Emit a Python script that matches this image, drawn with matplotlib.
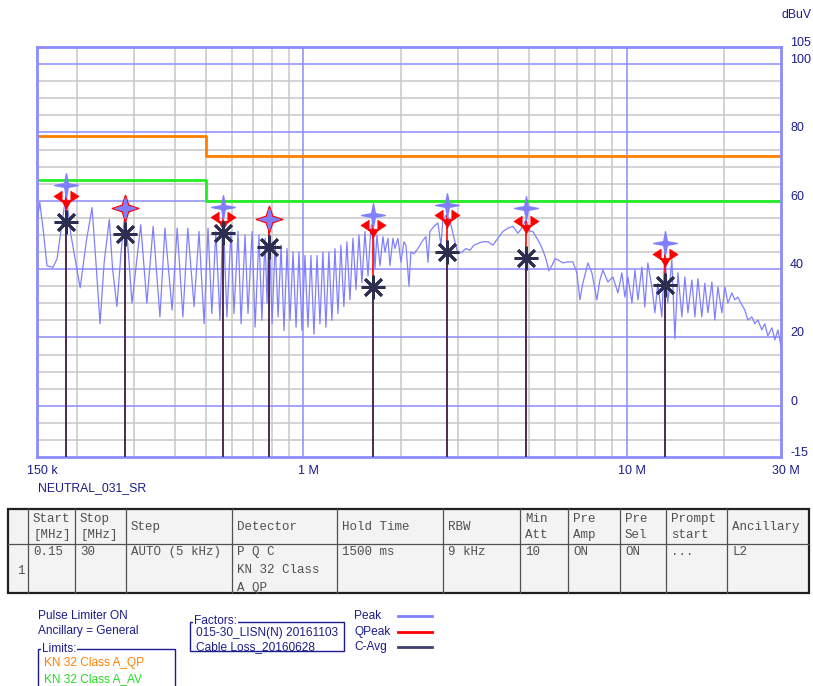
import matplotlib
matplotlib.use("Agg")
import matplotlib.pyplot as plt
from matplotlib.path import Path
from matplotlib.patches import Rectangle
from matplotlib.ticker import NullLocator
from matplotlib.transforms import blended_transform_factory, offset_copy

# peak trace (MHz, dBuV)
trace_freq = [
    0.150, 0.153, 0.157, 0.161, 0.168, 0.173, 0.179, 0.1845, 0.191, 0.204,
    0.213, 0.222, 0.229, 0.235, 0.242, 0.251, 0.257, 0.265, 0.273, 0.281,
    0.289, 0.295, 0.314, 0.328, 0.343, 0.360, 0.373, 0.3925, 0.407, 0.424,
    0.439, 0.459, 0.4755, 0.493, 0.507, 0.521, 0.536, 0.552, 0.564, 0.580,
    0.597, 0.610, 0.628, 0.6416, 0.660, 0.674, 0.694, 0.709, 0.729, 0.744,
    0.761, 0.772, 0.783, 0.800, 0.818, 0.835, 0.853, 0.871, 0.890, 0.909,
    0.929, 0.949, 0.969, 0.990, 1.011, 1.033, 1.055, 1.078, 1.102, 1.125,
    1.149, 1.174, 1.199, 1.225, 1.252, 1.279, 1.306, 1.334, 1.363, 1.393,
    1.423, 1.454, 1.485, 1.517, 1.550, 1.584, 1.617, 1.641, 1.664, 1.688,
    1.725, 1.762, 1.787, 1.826, 1.852, 1.892, 1.919, 1.961, 2.003, 2.046,
    2.076, 2.121, 2.150, 2.197, 2.260, 2.326, 2.393, 2.428, 2.462, 2.533,
    2.606, 2.663, 2.701, 2.779, 2.859, 2.942, 3.006, 3.092, 3.181, 3.273,
    3.368, 3.465, 3.591, 3.721, 3.855, 3.996, 4.141, 4.291, 4.446, 4.607,
    4.740, 4.877, 5.018, 5.126, 5.274, 5.388, 5.504, 5.623, 5.745, 5.869,
    5.995, 6.126, 6.347, 6.578, 6.815, 7.012, 7.164, 7.319, 7.585, 7.802,
    8.085, 8.260, 8.438, 8.745, 9.062, 9.391, 9.660, 9.869, 10.08, 10.38,
    10.60, 10.83, 11.14, 11.38, 11.62, 11.96, 12.22, 12.48, 12.84, 13.12,
    13.40, 13.79, 14.09, 14.40, 14.81, 15.13, 15.46, 15.90, 16.25, 16.60,
    17.07, 17.44, 17.82, 18.34, 18.73, 19.14, 19.69, 20.11, 20.55, 21.14,
    21.59, 22.06, 22.70, 23.19, 23.69, 24.37, 24.90, 25.44, 26.17, 26.73,
    27.31, 28.11, 28.71, 29.34, 30.0,
]
trace_level = [
    54, 59.5, 51, 41, 40.5, 43, 53, 62, 50, 34.5,
    48, 58, 40, 24, 42, 54.5, 40, 29, 45, 57,
    42, 30, 53, 30, 52.5, 26, 52, 28, 52, 26,
    52, 29, 51, 24, 52, 27, 51, 25, 57, 26,
    51, 27, 51, 24, 50, 27, 51, 23, 50, 25,
    49, 30, 54, 24, 48, 26, 47, 22, 46, 25,
    45, 23, 45, 22, 44, 23, 44, 21, 44, 24,
    45, 23, 45, 25, 46, 27, 47, 29, 48, 31,
    49, 34, 50, 36, 51, 38, 52, 54, 40, 50,
    41, 49.5, 45, 49, 41, 49, 46, 49, 42, 48,
    47, 35, 45, 44.5, 46, 48, 49.5, 42, 51, 52.5,
    53.5, 47, 54.5, 56, 53, 48, 44.5, 45, 46, 45.5,
    47, 47.5, 48, 48, 47, 49, 51, 52, 52.5, 50.5,
    52, 54.5, 51, 51, 49, 47.5, 45.5, 43, 39.5, 41,
    43, 42.7, 41.8, 42.1, 42.1, 38.9, 31.0, 35.9, 41.8, 38.9,
    31.0, 36.8, 39.7, 36.2, 37.7, 33.0, 38.9, 31.8, 37.7, 30.1,
    39.7, 31.0, 40.6, 28.9, 41.8, 34.8, 27.2, 35.9, 26.0, 45,
    30.1, 42.7, 19.6, 38.9, 26.0, 37.7, 27.2, 36.8, 26.0, 37.2,
    26.0, 35.9, 27.2, 36.2, 25.1, 34.8, 27.2, 34.8, 30.1, 33.0,
    31.0, 31.8, 29.5, 28.0, 25.1, 26.0, 24.0, 25.1, 22.2, 24.0,
    20.5, 22.8, 19.3, 22.2, 17.5,
]

# limit lines
qp_limit_freq = [0.15, 0.5, 30]
qp_limit_level = [79, 73, 73]
av_limit_freq = [0.15, 0.5, 30]
av_limit_level = [66, 60, 60]

# final measurement markers
marker_freq = [0.1845, 0.281, 0.564, 0.783, 1.641, 2.779, 4.877, 13.12]
peak_level = [64.6, 57.9, 58.2, 54.7, 55.8, 58.8, 57.9, 47.6]
qp_level = [61.4, 57.9, 55.3, 54.7, 52.9, 55.8, 54.1, 44.4]
avg_level = [53.8, 50.3, 50.6, 46.5, 34.8, 45.0, 43.3, 35.4]

x_ticks = [0.15, 1, 10, 30]
x_tick_labels = ["150 k", "1 M", "10 M", "30 M"]
y_ticks = [-15, 0, 20, 40, 60, 80, 100, 105]

table_header = [["Start", "[MHz]"], ["Stop", "[MHz]"], ["Step"], ["Detector"],
                ["Hold Time"], ["RBW"], ["Min", "Att"], ["Pre", "Amp"],
                ["Pre", "Sel"], ["Prompt", "start"], ["Ancillary"]]
table_row = [["0.15"], ["30"], ["AUTO (5 kHz)"], ["P Q C", "KN 32 Class", "A QP"],
             ["1500 ms"], ["9 kHz"], ["10"], ["ON"], ["ON"], ["..."], ["L2"]]

NAVY = "#1c1c8c"
GRID = "#c8c8c8"
BLUE = "#8c8cff"
sans = ["Liberation Sans", "DejaVu Sans"]

fig = plt.figure(figsize=(8.13, 6.86), dpi=100)
bg = fig.add_axes([0, 0, 1, 1])
bg.set_xlim(0, 813)
bg.set_ylim(686, 0)
bg.axis("off")

ax = fig.add_axes([37 / 813, 229 / 686, 744 / 813, 410 / 686])
ax.set_xscale("log")
ax.set_xlim(0.15, 30)
ax.set_ylim(-15, 105)

# grid
for d in (0.1, 1, 10):
    for k in range(2, 10):
        f = d * k
        if 0.15 < f < 30:
            ax.axvline(f, color=GRID, lw=1.1, zorder=0)
for f in (1, 10):
    ax.axvline(f, color=BLUE, lw=1.1, zorder=0.5)
for y in range(-10, 105, 5):
    ax.axhline(y, color=BLUE if y % 20 == 0 else GRID, lw=1.1,
               zorder=0.5 if y % 20 == 0 else 0)

ax.plot(qp_limit_freq, qp_limit_level, drawstyle="steps-post",
        color="#ff8000", lw=2, zorder=2)
ax.plot(av_limit_freq, av_limit_level, drawstyle="steps-post",
        color="#22ee22", lw=2, zorder=2)
ax.plot(trace_freq, trace_level, color="#8080ff", lw=0.9, zorder=3)

# bars
ax.vlines(marker_freq, -15, qp_level, color="red", lw=1.2, zorder=4)
ax.vlines(marker_freq, -15, avg_level, color="#30305a", lw=1.2, zorder=4)

# marker shapes
star = Path.unit_regular_star(4, 0.22)
qp_verts, qp_codes = [], []
for tri in ([(-1, 0), (-0.35, 0.42), (-0.35, -0.42)],
            [(1, 0), (0.35, 0.42), (0.35, -0.42)],
            [(0, -1), (-0.4, -0.3), (0.4, -0.3)]):
    qp_verts += tri + [tri[0]]
    qp_codes += [Path.MOVETO, Path.LINETO, Path.LINETO, Path.CLOSEPOLY]
qp_marker = Path(qp_verts, qp_codes)

for f, pk, qp, av in zip(marker_freq, peak_level, qp_level, avg_level):
    if qp >= pk:
        ax.plot(f, qp, marker=Path.unit_regular_star(4, 0.35), ms=19,
                color="red", mec="red", zorder=5)
        ax.plot(f, pk, marker=Path.unit_regular_star(4, 0.3), ms=15,
                color="#8080ff", mec="#8080ff", zorder=6)
    else:
        ax.plot(f, qp, marker=qp_marker, ms=18, color="red", mec="red",
                mew=0.5, zorder=5)
        ax.plot(f, pk, marker=star, ms=17, color="#8080ff", mec="#8080ff",
                zorder=6)
    ax.plot(f, av, marker=(8, 2, 0), ms=17, color="#2d2d50", mew=2, zorder=6)

for s in ax.spines.values():
    s.set_color(BLUE)
    s.set_linewidth(2)
ax.set_xticks(x_ticks)
ax.set_xticklabels([])
ax.xaxis.set_minor_locator(NullLocator())
ax.set_yticks(y_ticks)
ax.set_yticklabels([])
ax.tick_params(length=0)

# axis labels, nudged like the analyser software draws them
ytrans = offset_copy(blended_transform_factory(ax.transAxes, ax.transData),
                     fig=fig, x=9, y=4, units="dots")
for v in y_ticks:
    ax.text(1.0, v, str(v), transform=ytrans, ha="left", va="center",
            color=NAVY, fontsize=9, family=sans, clip_on=False)
xtrans = offset_copy(blended_transform_factory(ax.transData, ax.transAxes),
                     fig=fig, x=5, y=-8, units="dots")
for v, t in zip(x_ticks, x_tick_labels):
    ax.text(v, 0.0, t, transform=xtrans, ha="center", va="top",
            color=NAVY, fontsize=9, family=sans, clip_on=False)

bg.text(796, 15, "dBuV", ha="center", va="center", color=NAVY,
        fontsize=8.8, family=sans)
bg.text(38, 488, "NEUTRAL_031_SR", ha="left", va="center", color=NAVY,
        fontsize=8.8, family=sans)

# settings table
cols = [8, 28, 75, 126, 232, 337, 443, 520, 568, 620, 666, 727, 809]
top, mid, bot = 509, 544, 593
bg.add_patch(Rectangle((cols[0], top), cols[-1] - cols[0], bot - top,
                       facecolor="#f3f3f3", edgecolor="#202020", lw=1.6))
for c in cols[1:-1]:
    bg.plot([c, c], [top, bot], color="#505050", lw=0.9)
bg.plot([cols[0], cols[-1]], [mid, mid], color="#505050", lw=0.9)
mono = dict(family=["Liberation Mono", "DejaVu Sans Mono"], fontsize=9,
            color="#505050", va="center", ha="left")
for i, lines in enumerate(table_header):
    ys = [527] if len(lines) == 1 else [519, 535]
    for t, y in zip(lines, ys):
        bg.text(cols[i + 1] + 5, y, t, **mono)
for i, lines in enumerate(table_row):
    for t, y in zip(lines, [552, 570, 588]):
        bg.text(cols[i + 1] + 5, y, t, **mono)
bg.text(17, 571, "1", **mono)

# info / legend block
info = dict(family=sans, fontsize=8.6, va="center", ha="left")
bg.text(38, 616, "Pulse Limiter ON", color=NAVY, **info)
bg.text(38, 631, "Ancillary = General", color=NAVY, **info)
bg.add_patch(Rectangle((38, 649), 137, 45, facecolor="none",
                       edgecolor=NAVY, lw=1))
bg.text(42, 649, "Limits:", color=NAVY,
        bbox=dict(facecolor="white", edgecolor="none", pad=0.5), **info)
bg.text(44, 663, "KN 32 Class A_QP", color="#ff8000", **info)
bg.text(44, 679, "KN 32 Class A_AV", color="#22dd22", **info)

bg.add_patch(Rectangle((190, 622), 154, 29, facecolor="none",
                       edgecolor=NAVY, lw=1))
bg.text(194, 621, "Factors:", color=NAVY,
        bbox=dict(facecolor="white", edgecolor="none", pad=0.5), **info)
bg.text(196, 633, "015-30_LISN(N) 20161103", color=NAVY, **info)
bg.text(196, 647, "Cable Loss_20160628", color=NAVY, **info)

legend_items = [("Peak", "#8080ff"), ("QPeak", "red"), ("C-Avg", "#404070")]
for k, (name, col) in enumerate(legend_items):
    y = 616 + 15.5 * k
    bg.text(354, y, name, color=NAVY, **info)
    bg.plot([398, 432], [y, y], color=col, lw=2)

fig.savefig("out.png", dpi=100)
